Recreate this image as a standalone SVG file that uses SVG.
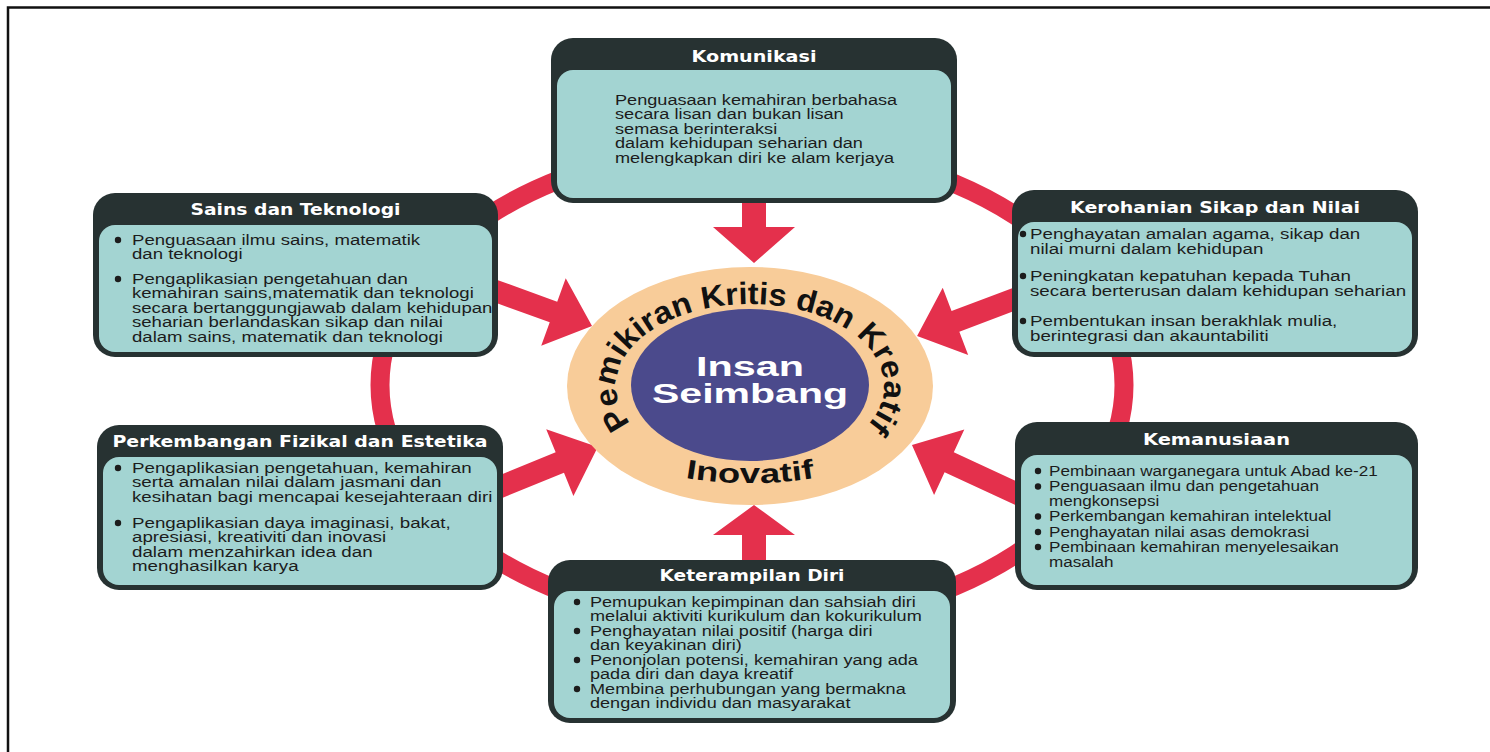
<svg xmlns="http://www.w3.org/2000/svg" width="1490" height="752" viewBox="0 0 1490 752">
<style>
.outer{fill:#273232}
.inner{fill:#a3d4d2}
.hd{font-family:"DejaVu Sans",Verdana,sans-serif;font-weight:bold;font-size:15.5px;fill:#ffffff;text-anchor:middle}
.bd{font-family:"Liberation Sans",Arial,sans-serif;font-size:15px;fill:#1c1c1c}
.bul{fill:#1c1c1c}
.arw{fill:#e4304c}
.ring{fill:none;stroke:#e4304c;stroke-width:19}
.arc{font-family:"Liberation Sans",Arial,sans-serif;font-weight:bold;fill:#111111}
.ctr{font-family:"Liberation Sans",Arial,sans-serif;font-weight:bold;font-size:27px;fill:#ffffff;text-anchor:middle}
</style>
<defs>
<path id="arcTop" d="M 630.6 423.2 A 134 82 0 1 1 869.4 423.2"/>
<path id="arcBot" d="M 640 467 A 200 98 0 0 0 860 467"/>
</defs>
<rect x="0" y="0" width="1490" height="752" fill="#ffffff"/>
<g id="frame" fill="none" stroke="#111111" stroke-width="2.5">
<path d="M 8 752 L 8 7.5 L 1490 7.5"/>
</g>

<g id="connectors">
<ellipse class="ring" cx="752" cy="385" rx="372" ry="240"/>
<polygon class="arw" transform="translate(754,195) rotate(90)" points="0,-12 32,-12 32,-41 68,0 32,41 32,12 0,12"/>
<polygon class="arw" transform="translate(754,565) rotate(-90)" points="0,-12 30,-12 30,-41 60,0 30,41 30,12 0,12"/>
<polygon class="arw" transform="translate(490,289) rotate(19.9)" points="0,-11 67.5,-11 67.5,-36 108.5,0 67.5,36 67.5,11 0,11"/>
<polygon class="arw" transform="translate(1020,297) rotate(159.3)" points="0,-11 69,-11 69,-36 110,0 69,36 69,11 0,11"/>
<polygon class="arw" transform="translate(495,489) rotate(-22.2)" points="0,-11 70,-11 70,-36 111,0 70,36 70,11 0,11"/>
<polygon class="arw" transform="translate(1020,495) rotate(204.8)" points="0,-11 78,-11 78,-36 119,0 78,36 78,11 0,11"/>
</g>

<g id="center">
<ellipse cx="750" cy="386" rx="183" ry="119" fill="#f8cc99"/>
<ellipse cx="750" cy="385" rx="119" ry="76" fill="#4b4a8c"/>
<text class="arc" font-size="31"><textPath href="#arcTop" textLength="428" lengthAdjust="spacingAndGlyphs">Pemikiran Kritis dan Kreatif</textPath></text>
<text class="arc" font-size="27" text-anchor="middle"><textPath href="#arcBot" startOffset="50%" textLength="130" lengthAdjust="spacingAndGlyphs">Inovatif</textPath></text>
<text class="ctr" x="750" y="376" textLength="108" lengthAdjust="spacingAndGlyphs">Insan</text>
<text class="ctr" x="750" y="403" textLength="196" lengthAdjust="spacingAndGlyphs">Seimbang</text>
</g>

<g id="komunikasi">
<rect class="outer" x="551" y="38" width="406" height="165" rx="22"/>
<rect class="inner" x="557" y="70" width="394" height="128" rx="16"/>
<text class="hd" x="754" y="62" textLength="125" lengthAdjust="spacingAndGlyphs">Komunikasi</text>
<text class="bd" transform="translate(615,105) scale(1.21,1)">
<tspan x="0" y="0">Penguasaan kemahiran berbahasa</tspan>
<tspan x="0" y="14.5">secara lisan dan bukan lisan</tspan>
<tspan x="0" y="29">semasa berinteraksi</tspan>
<tspan x="0" y="43.5">dalam kehidupan seharian dan</tspan>
<tspan x="0" y="58">melengkapkan diri ke alam kerjaya</tspan>
</text>
</g>

<g id="sains">
<rect class="outer" x="93" y="193" width="405" height="164" rx="22"/>
<rect class="inner" x="99" y="225" width="393" height="127" rx="16"/>
<text class="hd" x="295.5" y="215" textLength="210" lengthAdjust="spacingAndGlyphs">Sains dan Teknologi</text>
<circle class="bul" cx="118" cy="240" r="3.2"/>
<circle class="bul" cx="118" cy="279" r="3.2"/>
<text class="bd" transform="translate(132,245) scale(1.24,1)">
<tspan x="0" y="0">Penguasaan ilmu sains, matematik</tspan>
<tspan x="0" y="14">dan teknologi</tspan>
<tspan x="0" y="39">Pengaplikasian pengetahuan dan</tspan>
<tspan x="0" y="53.5">kemahiran sains,matematik dan teknologi</tspan>
<tspan x="0" y="68">secara bertanggungjawab dalam kehidupan</tspan>
<tspan x="0" y="82.5">seharian berlandaskan sikap dan nilai</tspan>
<tspan x="0" y="97">dalam sains, matematik dan teknologi</tspan>
</text>
</g>

<g id="kerohanian">
<rect class="outer" x="1012" y="190" width="406" height="167" rx="22"/>
<rect class="inner" x="1018" y="222" width="394" height="130" rx="16"/>
<text class="hd" x="1215" y="213" textLength="290" lengthAdjust="spacingAndGlyphs">Kerohanian Sikap dan Nilai</text>
<circle class="bul" cx="1023" cy="234" r="3.2"/>
<circle class="bul" cx="1023" cy="276" r="3.2"/>
<circle class="bul" cx="1023" cy="321" r="3.2"/>
<text class="bd" transform="translate(1030,239) scale(1.25,1)">
<tspan x="0" y="0">Penghayatan amalan agama, sikap dan</tspan>
<tspan x="0" y="15">nilai murni dalam kehidupan</tspan>
<tspan x="0" y="42">Peningkatan kepatuhan kepada Tuhan</tspan>
<tspan x="0" y="57">secara berterusan dalam kehidupan seharian</tspan>
<tspan x="0" y="87">Pembentukan insan berakhlak mulia,</tspan>
<tspan x="0" y="102">berintegrasi dan akauntabiliti</tspan>
</text>
</g>

<g id="perkembangan">
<rect class="outer" x="97" y="425" width="406" height="165" rx="22"/>
<rect class="inner" x="103" y="457" width="394" height="128" rx="16"/>
<text class="hd" x="300" y="447" textLength="375" lengthAdjust="spacingAndGlyphs">Perkembangan Fizikal dan Estetika</text>
<circle class="bul" cx="118" cy="468" r="3.2"/>
<circle class="bul" cx="118" cy="523" r="3.2"/>
<text class="bd" transform="translate(132,473) scale(1.25,1)">
<tspan x="0" y="0">Pengaplikasian pengetahuan, kemahiran</tspan>
<tspan x="0" y="14.5">serta amalan nilai dalam jasmani dan</tspan>
<tspan x="0" y="29">kesihatan bagi mencapai kesejahteraan diri</tspan>
<tspan x="0" y="55">Pengaplikasian daya imaginasi, bakat,</tspan>
<tspan x="0" y="69.5">apresiasi, kreativiti dan inovasi</tspan>
<tspan x="0" y="84">dalam menzahirkan idea dan</tspan>
<tspan x="0" y="98.5">menghasilkan karya</tspan>
</text>
</g>

<g id="kemanusiaan">
<rect class="outer" x="1015" y="422" width="403" height="168" rx="22"/>
<rect class="inner" x="1021" y="455" width="391" height="130" rx="16"/>
<text class="hd" x="1216.5" y="445" textLength="147" lengthAdjust="spacingAndGlyphs">Kemanusiaan</text>
<circle class="bul" cx="1038" cy="471" r="3.2"/>
<circle class="bul" cx="1038" cy="486.5" r="3.2"/>
<circle class="bul" cx="1038" cy="516.5" r="3.2"/>
<circle class="bul" cx="1038" cy="532" r="3.2"/>
<circle class="bul" cx="1038" cy="547" r="3.2"/>
<text class="bd" transform="translate(1049,476) scale(1.14,1)" font-size="15.5">
<tspan x="0" y="0">Pembinaan warganegara untuk Abad ke-21</tspan>
<tspan x="0" y="15.5">Penguasaan ilmu dan pengetahuan</tspan>
<tspan x="0" y="30.5">mengkonsepsi</tspan>
<tspan x="0" y="45.5">Perkembangan kemahiran intelektual</tspan>
<tspan x="0" y="61">Penghayatan nilai asas demokrasi</tspan>
<tspan x="0" y="76">Pembinaan kemahiran menyelesaikan</tspan>
<tspan x="0" y="91">masalah</tspan>
</text>
</g>

<g id="keterampilan">
<rect class="outer" x="548" y="560" width="408" height="163" rx="22"/>
<rect class="inner" x="554" y="591" width="396" height="127" rx="16"/>
<text class="hd" x="752" y="581" textLength="185" lengthAdjust="spacingAndGlyphs">Keterampilan Diri</text>
<circle class="bul" cx="577" cy="602" r="3.2"/>
<circle class="bul" cx="577" cy="631" r="3.2"/>
<circle class="bul" cx="577" cy="660" r="3.2"/>
<circle class="bul" cx="577" cy="689" r="3.2"/>
<text class="bd" transform="translate(590,607) scale(1.207,1)">
<tspan x="0" y="0">Pemupukan kepimpinan dan sahsiah diri</tspan>
<tspan x="0" y="14.5">melalui aktiviti kurikulum dan kokurikulum</tspan>
<tspan x="0" y="29">Penghayatan nilai positif (harga diri</tspan>
<tspan x="0" y="43.5">dan keyakinan diri)</tspan>
<tspan x="0" y="58">Penonjolan potensi, kemahiran yang ada</tspan>
<tspan x="0" y="72.5">pada diri dan daya kreatif</tspan>
<tspan x="0" y="87">Membina perhubungan yang bermakna</tspan>
<tspan x="0" y="101.5">dengan individu dan masyarakat</tspan>
</text>
</g>
</svg>
